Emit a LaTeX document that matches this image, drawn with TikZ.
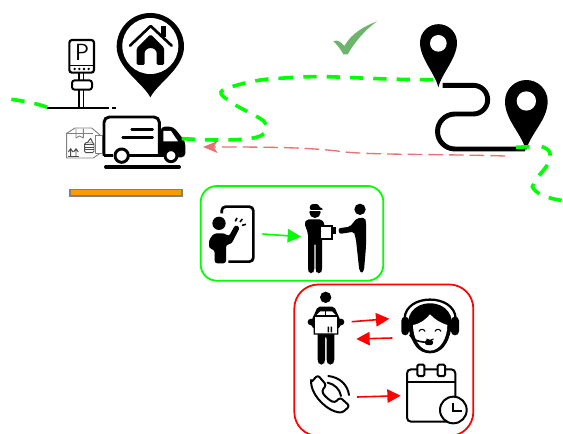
\documentclass[tikz,border=0pt]{standalone}
\usetikzlibrary{arrows.meta}
\definecolor{lgrn}{HTML}{00FF00}
\definecolor{pinkred}{HTML}{E57373}
\definecolor{chk}{HTML}{6DB56D}
\definecolor{orng}{HTML}{FF9900}
\tikzset{
 zA/.style={shift={(0,0)},x=0.25pt,y=-0.25pt},
 zB/.style={shift={(280,0)},x=0.25pt,y=-0.25pt},
 zC/.style={shift={(190,180)},x=0.25pt,y=-0.25pt},
 zD/.style={shift={(285,280)},x=0.25pt,y=-0.25pt},
 gpath/.style={draw=lgrn,line width=2.7pt,dash pattern=on 10pt off 7.5pt},
 flow/.style={line width=1.2pt,-{Triangle[length=10pt,width=10pt]}},
 panel/.style={fill=white,line width=1.3pt,rounded corners=12pt}
}
\begin{document}
\begin{tikzpicture}[x=0.75pt,y=-0.75pt]
\useasboundingbox (0,0) rectangle (563,434);
\clip (0,0) rectangle (563,434);
\fill[white] (0,0) rectangle (563,434);
% named anchor points for connectors
\coordinate (bellMan) at (262.3,234);
\coordinate (courier) at (301,236.7);
\coordinate (parcelOut) at (351.7,321.7);
\coordinate (agentIn) at (389.3,318.7);
\coordinate (agentOut) at (392.3,338);
\coordinate (parcelIn) at (356.3,339);
\coordinate (phone) at (357,397);
\coordinate (calendar) at (400.7,395.7);
\coordinate (routeEnd) at (505,156);
\coordinate (truckBack) at (203,147);

% panels
\draw[draw=lgrn,panel] (200.7,186) rectangle (383.3,280.7);
\draw[draw=red,panel,rounded corners=18pt] (294.3,284.5) rectangle (473.3,436);

% orange bar
\draw[draw=gray,fill=orng,line width=1.3pt] (70,189.5) rectangle (182.3,195.8);

% check mark
\fill[chk,zB] (160,124) .. controls (172,118) and (182,125) .. (193,138) .. controls (215,100) and (250,80) .. (291,64) .. controls (255,90) and (225,125) .. (203,163) -- (190,163) .. controls (182,148) and (172,135) .. (160,124) -- cycle;

% home pin
\begin{scope}[zA]
\fill (451,292) .. controls (430,250) and (350,205) .. (350,140) arc[start angle=180,end angle=360,radius=101] .. controls (552,205) and (472,250) .. (451,292) -- cycle;
\fill[white] (451,138) circle[radius=84];
\draw[black,line width=2pt,line cap=round,line join=round] (390,137) -- (452,78) -- (515,137);
\fill (484,78) rectangle (498,112);
\fill[rounded corners=1pt] (452,103) -- (492,143) -- (492,195) -- (470,195) -- (470,162) arc[start angle=0,end angle=-180,radius=18] -- (434,195) -- (410,195) -- (410,145) -- cycle;
\end{scope}

% parking post
\begin{scope}[zA]
\draw[line width=1.6pt,rounded corners=2pt] (208,120) rectangle (282,218);
\draw[line width=1pt] (208,196) -- (282,196);
\node[inner sep=0pt,font=\sffamily\fontsize{17.5}{17.5}\selectfont] (parkP) at (246,157) {P};
\foreach \x in {224,238,252,266} \fill (\x,207) circle[radius=4];
\draw[line width=1.2pt] (237,220) -- (237,322) (251,220) -- (251,322);
\draw[fill=white,line width=1.5pt,rounded corners=2pt] (216,241) rectangle (276,269);
\draw[line width=1.6pt] (142,323) -- (328,323);
\draw[line width=1.6pt] (336,323) -- (349,323);
\end{scope}

% truck and parcel
\begin{scope}[zA]
\begin{scope}[gray,line width=0.7pt,line join=round]
\draw (200,400) -- (225,384) -- (275,384) -- (300,405) -- (300,460) -- (280,474) -- (200,474) -- cycle;
\draw (200,400) -- (280,400);
\draw (228,386) -- (228,414) -- (238,408) -- (250,414) -- (250,386);
\draw[black!70] (212,448) -- (212,468) (205,456) -- (212,446) -- (219,456) (228,448) -- (228,468) (221,456) -- (228,446) -- (235,456);
\draw[black!70] (205,470) -- (236,470);
\draw[fill=white] (285,405) rectangle (306,460);
\draw[black!70,fill=white,rounded corners=1pt] (254,428) rectangle (282,458);
\draw[black!70,fill=white] (262,428) -- (272,415) -- (278,428);
\foreach \y in {434,441,448} \draw[black!70] (254,\y) -- (282,\y);
\end{scope}
\draw[line width=2.2pt,rounded corners=4pt] (312,468) -- (312,351) -- (478,351) -- (478,468);
\draw[line width=2.2pt] (312,466) -- (340,466) (388,466) -- (490,466);
\fill[rounded corners=3pt] (482,380) -- (520,380) -- (556,425) -- (556,472) -- (482,472) -- cycle;
\fill[white] (490,393) -- (513,393) -- (534,424) -- (490,424) -- cycle;
\draw[line width=1.9pt,line cap=round] (395,388) -- (458,388);
\draw[line width=1.9pt,line cap=round] (368,412) -- (458,412);
\draw[fill=white,line width=2.2pt] (365,467) circle[radius=20];
\draw[fill=white,line width=2.2pt] (513,467) circle[radius=18];
\draw[line width=2.4pt,line cap=round] (317,501) -- (538,501);
\end{scope}

% route and location pins
\begin{scope}[zB]
\draw[line width=3.7pt] (488,256) -- (580,256) arc[start angle=270,end angle=450,radius=43] -- (525,342) arc[start angle=270,end angle=90,radius=52.5] -- (735,447);
\fill (475,262) .. controls (465,220) and (420,175) .. (420,128) arc[start angle=180,end angle=360,radius=55.5] .. controls (531,175) and (485,220) .. (475,262) -- cycle;
\fill[white] (475,130) circle[radius=25];
\fill (738,452) .. controls (725,400) and (675,360) .. (675,304) arc[start angle=180,end angle=360,radius=64] .. controls (803,360) and (751,400) .. (738,452) -- cycle;
\fill[white] (739,303) circle[radius=29];
\end{scope}

% green route
\draw[gpath,zA] (34,298) .. controls (70,303) and (110,310) .. (142,322);
\draw[gpath,zA] (545,416) .. controls (620,420) and (700,424) .. (765,413) .. controls (800,405) and (810,385) .. (790,362) .. controls (760,340) and (705,320) .. (685,300) .. controls (650,280) and (660,270) .. (690,262) .. controls (740,245) and (800,235) .. (840,235);
\draw[gpath,zB] (0,235) .. controls (60,230) and (120,228) .. (190,232) .. controls (270,235) and (380,240) .. (462,239);
\draw[gpath,zB] (708,442) -- (750,440) (785,440) .. controls (815,448) and (815,470) .. (805,490) .. controls (790,515) and (770,530) .. (757,560) .. controls (765,580) and (800,595) .. (849,602);

% returning dashed connector
\draw[pinkred,line width=1pt,dash pattern=on 11pt off 4.5pt,-{Stealth[length=11pt,width=9pt,inset=3pt]}] (routeEnd) .. controls (440,154) and (375,155) .. (345,152) .. controls (310,147) and (260,147) .. (truckBack);

% bell-press figure
\begin{scope}[zC]
\draw[line width=2pt,rounded corners=3pt] (95,100) -- (95,80) -- (190,80) -- (190,245) -- (115,245);
\fill (87,130) circle[radius=20];
\fill[rounded corners=2pt] (72,160) -- (105,160) -- (116,170) -- (136,134) -- (150,142) -- (124,192) -- (108,194) -- (108,250) -- (74,250) -- (74,210) -- (57,205) -- (57,180) -- cycle;
\draw[line width=1.2pt] (136,124) -- (141,114) (150,126) -- (157,117) (156,136) -- (168,133);
\end{scope}

% courier and customer
\begin{scope}[zC]
\fill (375,97) circle[radius=17];
\fill[rounded corners=1pt] (358,88) -- (362,73) -- (385,72) -- (388,82) -- (400,86) -- (396,90) -- cycle;
\fill[white] (358,90) rectangle (394,94);
\fill[rounded corners=1.5pt] (350,118) -- (395,118) -- (404,132) -- (404,150) -- (396,160) -- (396,272) -- (392,280) -- (381,280) -- (377,272) -- (377,190) -- (373,190) -- (373,272) -- (368,280) -- (358,280) -- (354,272) -- (354,160) -- (343,130) -- cycle;
\fill[black] (386,134) rectangle (430,180);
\fill[white] (393,141) rectangle (424,173);
\draw[line width=2pt] (362,142) -- (392,157);
\fill (430,142) rectangle (439,162);
\fill (510,88) circle[radius=17];
\fill[rounded corners=1.5pt] (445,145) -- (480,140) -- (500,115) -- (525,113) -- (528,125) -- (528,200) -- (522,272) -- (515,280) -- (508,272) -- (498,180) -- (492,155) -- (448,162) -- cycle;
\end{scope}

% parcel carrier
\begin{scope}[zD]
\fill (122,52) circle[radius=17];
\fill[rounded corners=1.5pt] (98,80) -- (148,80) -- (168,125) -- (168,140) -- (148,150) -- (148,245) -- (142,254) -- (130,254) -- (125,245) -- (125,170) -- (120,170) -- (120,245) -- (115,254) -- (103,254) -- (98,245) -- (98,150) -- (78,140) -- (78,125) -- cycle;
\draw[fill=white,line width=0.9pt] (88,108) -- (105,92) -- (142,92) -- (158,108) -- (158,162) -- (88,162) -- cycle;
\draw[line width=0.9pt] (88,108) -- (158,108) (122,92) -- (122,108);
\fill (128,140) rectangle (132,157) (137,140) rectangle (141,157);
\fill (78,126) circle[radius=10] (168,126) circle[radius=10];
\end{scope}

% support agent
\begin{scope}[zD]
\fill[rounded corners=3pt] (349,110) rectangle (372,166);
\fill[rounded corners=3pt] (498,110) rectangle (522,166);
\draw[line width=1.7pt] (359,115) .. controls (362,40) and (508,40) .. (512,115);
\fill (372,150) .. controls (360,110) and (385,70) .. (435,70) .. controls (485,70) and (510,110) .. (498,150) .. controls (490,190) and (470,220) .. (435,220) .. controls (400,220) and (380,190) .. (372,150) -- cycle;
\fill[white] (384,135) .. controls (410,130) and (425,115) .. (435,103) .. controls (450,120) and (470,130) .. (487,135) .. controls (487,175) and (465,212) .. (435,212) .. controls (405,212) and (384,175) .. (384,135) -- cycle;
\draw[line width=0.8pt,line cap=round] (402,154) .. controls (406,146) and (416,146) .. (420,154);
\draw[line width=0.8pt,line cap=round] (450,154) .. controls (454,146) and (464,146) .. (468,154);
\draw[line width=0.7pt] (424,177) .. controls (430,182) and (440,182) .. (446,177);
\draw[line width=1.2pt] (374,164) .. controls (380,180) and (405,187) .. (430,187);
\fill[rounded corners=1.5pt] (420,180) rectangle (444,195);
\end{scope}

% phone
\begin{scope}[zD]
\draw[line width=1.5pt,rounded corners=2pt,line join=round,fill=white] (78,308) -- (98,285) -- (124,315) -- (110,333) .. controls (120,350) and (135,362) .. (150,368) -- (165,352) -- (194,378) -- (172,398) .. controls (130,395) and (85,352) .. (78,308) -- cycle;
\draw[line width=1.5pt,line cap=round] (130,288) .. controls (165,292) and (188,315) .. (192,345);
\draw[line width=1.5pt,line cap=round] (128,308) .. controls (148,312) and (165,328) .. (168,348);
\end{scope}

% calendar with clock
\begin{scope}[zD]
\draw[line width=1.5pt,rounded corners=3pt] (366,268) rectangle (511,425);
\draw[line width=1.5pt] (366,306) -- (511,306);
\draw[fill=white,line width=1.5pt,rounded corners=1pt] (397,254) rectangle (418,288);
\draw[fill=white,line width=1.5pt,rounded corners=1pt] (458,254) rectangle (480,288);
\draw[fill=white,line width=1.5pt] (505,390) circle[radius=40];
\draw[line width=1.5pt] (505,368) -- (505,392) -- (530,392);
\end{scope}

% connectors
\draw[flow,lgrn] (bellMan) -- (courier);
\draw[flow,red] (parcelOut) -- (agentIn);
\draw[flow,red] (agentOut) -- (parcelIn);
\draw[flow,red] (phone) -- (calendar);
\end{tikzpicture}
\end{document}
